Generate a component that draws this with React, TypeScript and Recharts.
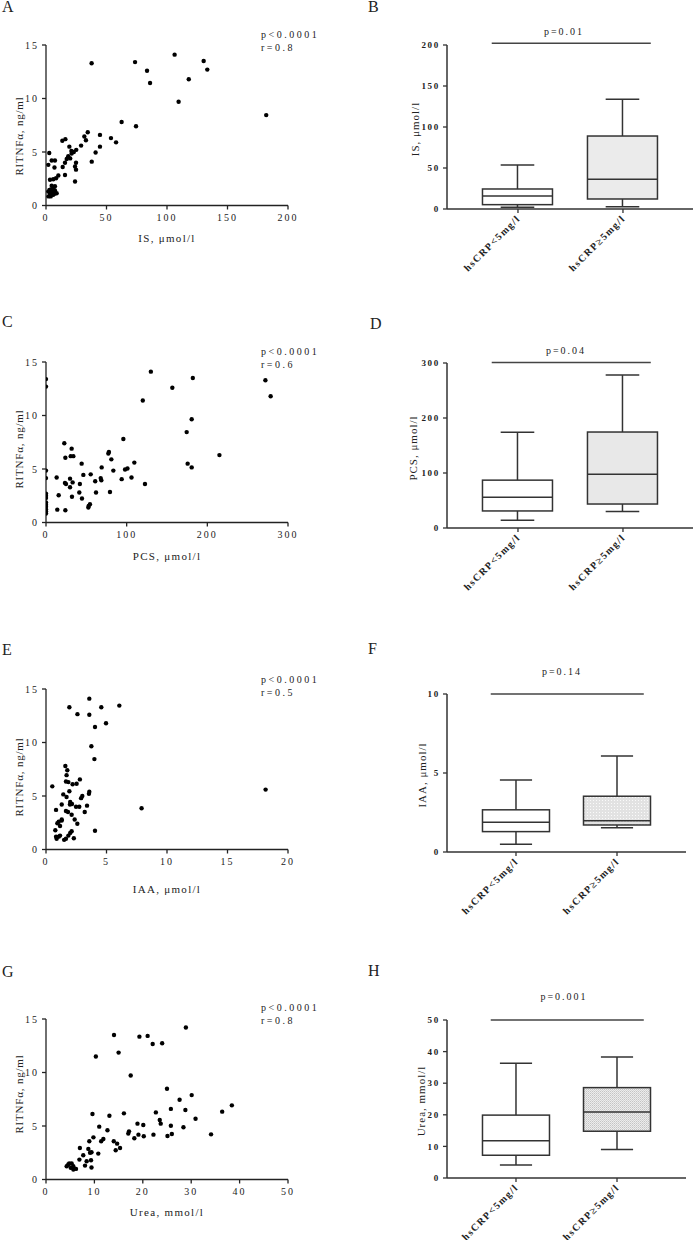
import React from 'react';
import {
  ScatterChart, Scatter, ComposedChart, Bar, XAxis, YAxis, ReferenceLine,
} from 'recharts';

const SERIF = '"Liberation Serif", "DejaVu Serif", serif';
const INK = '#222';

// groups on every box plot
const groups = ['hsCRP<5mg/l', 'hsCRP≥5mg/l'];

// scatter data: [x, RITNFα ng/ml]
const isTnf: [number, number][] = [
  [2.7, 4.9], [1.9, 3.8], [4.7, 4.2], [7.4, 4.2], [7.0, 3.55], [13.5, 6.05], [16, 6.2], [19.3, 5.5],
  [21, 5.1], [23, 5.0], [25, 5.2], [29, 5.6], [31.7, 6.45], [34.5, 6.85], [33, 6.1], [44.6, 6.6],
  [44.6, 5.5], [41, 4.95], [37.8, 4.1], [53.7, 6.3], [57.9, 5.9], [62.5, 7.8], [74.4, 7.4], [18.4, 4.6],
  [17.1, 4.35], [15.7, 4.0], [13.8, 3.6], [21.2, 4.85], [20, 4.4], [24.8, 4.0], [24, 3.65], [24.8, 3.35],
  [24, 2.25], [15.7, 2.85], [10.2, 2.8], [8.3, 2.55], [3.3, 2.4], [6, 2.45], [37.7, 13.3], [73.6, 13.4],
  [106.3, 14.1], [83.5, 12.6], [86, 11.45], [118, 11.8], [109.6, 9.7], [130.3, 13.5], [133.3, 12.7],
  [182, 8.45], [2, 0.85], [3.3, 1.1], [1.9, 1.3], [4.1, 1.5], [6, 1.6], [7.4, 1.4], [5.5, 1.2],
  [8.8, 1.15], [7.4, 1.8], [4.7, 1.85], [2.8, 1.45], [6, 1.0], [3.9, 0.85], [5, 1.3], [7, 1.1],
];

const pcsTnf: [number, number][] = [
  [0, 13.4], [0, 12.7], [0, 4.85], [0, 4.15], [0, 2.7], [0, 2.5], [0, 2.3], [0, 1.87], [0, 1.66],
  [0, 1.47], [0, 1.25], [0, 1.03], [0, 0.84], [130, 14.1], [156.6, 12.6], [120, 11.4], [182, 13.5],
  [272, 13.3], [278.5, 11.8], [180.6, 9.65], [174.4, 8.45], [215, 6.3], [175.6, 5.5], [180.6, 5.15],
  [22.7, 7.4], [31.8, 6.9], [24, 6.05], [30.6, 6.2], [33.9, 6.2], [44.2, 5.5], [13.2, 4.2], [29.8, 4.1],
  [23.5, 3.7], [24.8, 3.6], [33, 3.75], [29.8, 3.3], [42, 3.6], [46.3, 4.45], [15.7, 2.55], [32.2, 2.4],
  [41.3, 2.8], [44.6, 2.25], [14, 1.2], [24, 1.15], [52.9, 1.55], [54.5, 1.7], [52.5, 1.4], [55.4, 4.5],
  [62, 2.8], [61, 3.85], [67.8, 4.15], [68.6, 3.95], [69, 5.15], [77.3, 6.45], [78, 6.6], [81, 5.9],
  [83.5, 4.85], [79.3, 2.85], [95.9, 7.8], [93.8, 4.05], [98, 4.95], [101, 5.05], [109.5, 5.6],
  [106, 4.2], [122.7, 3.6],
];

const iaaTnf: [number, number][] = [
  [1.93, 13.3], [2.6, 12.65], [3.58, 14.1], [3.58, 12.6], [4.57, 13.3], [6.06, 13.45], [4.96, 11.8],
  [4.05, 11.45], [3.75, 9.65], [4.0, 8.45], [7.9, 3.85], [18.15, 5.6], [4.05, 1.75], [0.52, 5.9],
  [1.6, 7.8], [1.76, 7.4], [1.7, 6.95], [1.65, 6.35], [1.85, 6.3], [2.2, 6.1], [2.53, 6.15], [2.8, 6.55],
  [1.93, 5.45], [1.43, 5.15], [1.7, 4.9], [2.0, 4.45], [2.15, 4.25], [1.98, 4.2], [1.3, 4.2], [2.48, 4.0],
  [2.75, 4.0], [2.9, 4.8], [3.0, 5.0], [3.55, 5.2], [3.58, 5.4], [3.39, 4.1], [3.2, 3.5], [0.83, 3.7],
  [1.65, 3.6], [1.82, 3.5], [2.12, 3.25], [2.37, 2.8], [2.59, 2.4], [1.3, 2.8], [1.3, 2.7], [0.94, 2.45],
  [1.05, 2.6], [1.16, 2.2], [0.77, 1.8], [0.83, 1.2], [1.05, 1.2], [1.16, 1.3], [0.88, 1.0], [1.5, 0.9],
  [1.65, 1.0], [1.85, 1.3], [2.0, 1.55], [2.12, 1.7], [2.3, 1.05],
];

const ureaTnf: [number, number][] = [
  [4.27, 1.24], [4.8, 1.49], [5.3, 1.49], [5.65, 1.24], [5.1, 1.09], [5.65, 0.93], [6.2, 0.99],
  [4.6, 1.4], [8.06, 1.3], [9.4, 1.12], [6.9, 1.86], [8.4, 1.7], [9.3, 1.8], [9.1, 2.5], [9.4, 2.55],
  [7.7, 2.27], [7.0, 2.95], [8.75, 2.86], [8.95, 3.57], [9.8, 3.94], [10.8, 2.42], [9.6, 6.12],
  [10.3, 11.5], [11, 4.94], [11.4, 3.57], [11.85, 3.79], [12.7, 4.6], [13.1, 5.96], [14, 3.57],
  [14.7, 3.35], [14.4, 2.73], [15.3, 2.95], [14.05, 13.5], [15, 11.86], [16.1, 6.18], [17, 4.29],
  [17.15, 4.5], [17.5, 9.72], [18.25, 3.85], [19.3, 13.35], [21, 13.42], [22.04, 12.67], [24, 12.73],
  [18.9, 5.22], [20.1, 5.09], [19.1, 4.19], [20.2, 4.04], [22.2, 4.19], [22.7, 6.27], [23.5, 5.56],
  [23.7, 5.22], [25, 8.48], [25.8, 6.6], [25.8, 5.03], [26, 4.25], [25.1, 4.07], [27.6, 7.45],
  [28.4, 4.88], [28.8, 6.49], [30.1, 7.89], [30.9, 5.68], [28.9, 14.2], [34.1, 4.22], [36.4, 6.34],
  [38.4, 6.93],
];

// box stats per group: [min, q1, median, q3, max]
const isBox = [[2, 5.3, 15.9, 24.4, 53.7], [2.8, 12.2, 36.2, 89, 133.7]];
const pcsBox = [[14, 31, 55.8, 87, 174], [30, 43.6, 97.6, 174.5, 278]];
const iaaBox = [[0.49, 1.29, 1.88, 2.67, 4.55], [1.54, 1.71, 1.97, 3.53, 6.07]];
const ureaBox = [[4.1, 7.2, 11.8, 19.9, 36.3], [9.05, 14.8, 20.9, 28.6, 38.3]];

// tick labels
const tnfTicks = [0, 5, 10, 15];
const isTicks = [0, 50, 100, 150, 200];
const pcsTicks = [0, 100, 200, 300];
const iaaTicks = [0, 5, 10, 15, 20];
const ureaTicks = [0, 10, 20, 30, 40, 50];
const iaaBoxTicks = [0, 5, 10];

const axisLine = { stroke: INK, strokeWidth: 1.3 };

function Note({ x, y, children, size = 10, spacing = 0, center = false, rotate = false, weight = 'normal' }: any) {
  const tf = `translate(${center || rotate ? '-50%' : '0'}, -50%)${rotate ? ' rotate(-90deg)' : ''}`;
  return (
    <div style={{
      position: 'absolute', left: x, top: y, transform: tf, whiteSpace: 'nowrap',
      fontFamily: SERIF, fontSize: size, letterSpacing: spacing, lineHeight: 1, color: INK, fontWeight: weight,
    }}>{children}</div>
  );
}

const Dot = (p: any) => <circle cx={p.cx} cy={p.cy} r={2.2} fill="#000" />;

function ScatterPanel({ plotTop, points, xMax, xTicks, xTitle, xTitleY, yTitleY, letter, letterY, pY, r }: any) {
  const data = points.map(([x, y]: [number, number]) => ({ x, y }));
  return (
    <>
      <div style={{ position: 'absolute', left: 0, top: plotTop - 45 }}>
        <ScatterChart width={320} height={270} margin={{ top: 45, right: 32, bottom: 0, left: 0 }}>
          <XAxis type="number" dataKey="x" domain={[0, xMax]} ticks={xTicks} interval={0} height={64.5}
            allowDataOverflow axisLine={axisLine} tickLine={axisLine} tickSize={4} tickMargin={4}
            tick={{ fontSize: 10, fontFamily: SERIF, fill: INK, letterSpacing: 2 }} />
          <YAxis type="number" dataKey="y" domain={[0, 15]} ticks={tnfTicks} interval={0} width={46}
            allowDataOverflow axisLine={axisLine} tickLine={axisLine} tickSize={4} tickMargin={3}
            tick={{ fontSize: 10, fontFamily: SERIF, fill: INK, letterSpacing: 2 }} />
          <Scatter data={data} isAnimationActive={false} shape={Dot} />
        </ScatterChart>
      </div>
      <Note x={2} y={letterY} size={16}>{letter}</Note>
      <Note x={261} y={pY} spacing={2.5}>p&lt;0.0001</Note>
      <Note x={261} y={pY + 13} spacing={2.5}>r=0.{r}</Note>
      <Note x={167} y={xTitleY} size={11} spacing={1.3} center>{xTitle}</Note>
      <Note x={19} y={yTitleY} size={11} spacing={0.8} rotate>RITNFα, ng/ml</Note>
    </>
  );
}

const GroupTick = (props: any) => {
  const { x, y, payload } = props;
  const ax = x + 3;
  const ay = y + 4;
  return (
    <text x={ax} y={ay} textAnchor="end" transform={`rotate(-45 ${ax} ${ay})`} fontFamily={SERIF}
      fontSize={10} fontWeight="bold" fill={INK} letterSpacing={1.4}>
      {groups[payload.value - 1]}
    </text>
  );
};

function makeBoxShape(fills: string[]) {
  return (props: any) => {
    const { x, y, width, height, payload, index } = props;
    const [min, q1, med, q3, max] = payload.stats;
    const top = Math.min(y, y + height);
    const bottom = Math.max(y, y + height);
    const py = (v: number) => bottom - ((bottom - top) * (v - min)) / (max - min);
    const cx = x + width / 2;
    const cap = width * 0.24;
    const st = { stroke: '#333', strokeWidth: 1.5 };
    return (
      <g>
        <line x1={cx} x2={cx} y1={py(max)} y2={py(q3)} {...st} />
        <line x1={cx} x2={cx} y1={py(q1)} y2={py(min)} {...st} />
        <line x1={cx - cap} x2={cx + cap} y1={py(max)} y2={py(max)} {...st} />
        <line x1={cx - cap} x2={cx + cap} y1={py(min)} y2={py(min)} {...st} />
        <rect x={x} y={py(q3)} width={width} height={py(q1) - py(q3)} fill={fills[index]} {...st} />
        <line x1={x} x2={x + width} y1={py(med)} y2={py(med)} {...st} />
      </g>
    );
  };
}

function BoxPanel({ plotTop, plotH, plotW, domain, stats, yMax, yTicks, pLineY, fills, boxW, yTitle, titleX,
  letter, letterX, letterY, pText, pX, pY }: any) {
  const data = stats.map((s: number[], i: number) => ({ pos: i + 1, group: groups[i], range: [s[0], s[4]], stats: s }));
  return (
    <>
      <div style={{ position: 'absolute', left: 340, top: plotTop - 45 }}>
        <ComposedChart width={107 + plotW + 4} height={45 + plotH + 90} data={data}
          margin={{ top: 45, right: 4, bottom: 0, left: 57 }}>
          <XAxis type="number" dataKey="pos" domain={domain} ticks={[1, 2]} interval={0} height={90}
            allowDataOverflow axisLine={{ stroke: '#333', strokeWidth: 1.5 }} tickLine={{ stroke: '#333', strokeWidth: 1.3 }}
            tickSize={4} tickMargin={2} tick={GroupTick} />
          <YAxis type="number" domain={[0, yMax]} ticks={yTicks} interval={0} width={50} allowDataOverflow
            axisLine={{ stroke: '#333', strokeWidth: 1.5 }} tickLine={{ stroke: '#333', strokeWidth: 1.3 }}
            tickSize={4} tickMargin={3}
            tick={{ fontSize: 9, fontFamily: SERIF, fill: INK, fontWeight: 'bold', letterSpacing: 1.7 }} />
          <Bar dataKey="range" barSize={boxW} shape={makeBoxShape(fills)} isAnimationActive={false} />
          <ReferenceLine segment={[{ x: 0.75, y: pLineY }, { x: 2.265, y: pLineY }]} stroke="#444"
            strokeWidth={1.5} ifOverflow="visible" />
        </ComposedChart>
      </div>
      <Note x={letterX} y={letterY} size={16}>{letter}</Note>
      <Note x={pX} y={pY} spacing={2} center>{pText}</Note>
      <Note x={titleX} y={plotTop + plotH / 2 + 2} size={11} spacing={1} rotate>{yTitle}</Note>
    </>
  );
}

export default function App() {
  return (
    <div style={{ position: 'absolute', left: 0, top: 0, width: 695, height: 1240, background: '#fff' }}>
      <svg width={0} height={0} style={{ position: 'absolute' }}>
        <defs>
          <pattern id="dotsF" width={3} height={3} patternUnits="userSpaceOnUse">
            <rect width={3} height={3} fill="#e2e2e2" />
            <rect x={1} y={1} width={1} height={1} fill="#fafafa" />
          </pattern>
          <pattern id="dotsH" width={2} height={2} patternUnits="userSpaceOnUse">
            <rect width={2} height={2} fill="#ececec" />
            <rect width={1} height={1} fill="#c4c4c4" />
            <rect x={1} y={1} width={1} height={1} fill="#d4d4d4" />
          </pattern>
        </defs>
      </svg>

      <ScatterPanel plotTop={45} points={isTnf} xMax={200} xTicks={isTicks} xTitle="IS, μmol/l"
        xTitleY={238} yTitleY={136} letter="A" letterY={7} pY={35} r={8} />
      <ScatterPanel plotTop={362} points={pcsTnf} xMax={300} xTicks={pcsTicks} xTitle="PCS, μmol/l"
        xTitleY={556} yTitleY={449} letter="C" letterY={322} pY={352} r={6} />
      <ScatterPanel plotTop={689} points={iaaTnf} xMax={20} xTicks={iaaTicks} xTitle="IAA, μmol/l"
        xTitleY={889} yTitleY={777} letter="E" letterY={650} pY={680} r={5} />
      <ScatterPanel plotTop={1019} points={ureaTnf} xMax={50} xTicks={ureaTicks} xTitle="Urea, mmol/l"
        xTitleY={1212} yTitleY={1094} letter="G" letterY={972} pY={1008} r={8} />

      <BoxPanel plotTop={45} plotH={164} plotW={246} domain={[0.324, 2.667]} stats={isBox} yMax={200}
        yTicks={isTicks} pLineY={202} fills={['#fff', '#ebebeb']} boxW={70} yTitle="IS, μmol/l" titleX={415}
        letter="B" letterX={368} letterY={7} pText="p=0.01" pX={564} pY={32} />
      <BoxPanel plotTop={363.3} plotH={165} plotW={246} domain={[0.324, 2.667]} stats={pcsBox} yMax={300}
        yTicks={pcsTicks} pLineY={301} fills={['#fff', '#e8e8e8']} boxW={70} yTitle="PCS, μmol/l" titleX={413}
        letter="D" letterX={370} letterY={324} pText="p=0.04" pX={566} pY={351} />
      <BoxPanel plotTop={694} plotH={158} plotW={239} domain={[0.317, 2.683]} stats={iaaBox} yMax={10}
        yTicks={iaaBoxTicks} pLineY={10} fills={['#fff', 'url(#dotsF)']} boxW={67} yTitle="IAA, μmol/l" titleX={422}
        letter="F" letterX={368} letterY={649} pText="p=0.14" pX={562} pY={672} />
      <BoxPanel plotTop={1020} plotH={158} plotW={239} domain={[0.317, 2.683]} stats={ureaBox} yMax={50}
        yTicks={ureaTicks} pLineY={50} fills={['#fff', 'url(#dotsH)']} boxW={67} yTitle="Urea, mmol/l" titleX={421}
        letter="H" letterX={368} letterY={971} pText="p=0.001" pX={564} pY={997} />
    </div>
  );
}
